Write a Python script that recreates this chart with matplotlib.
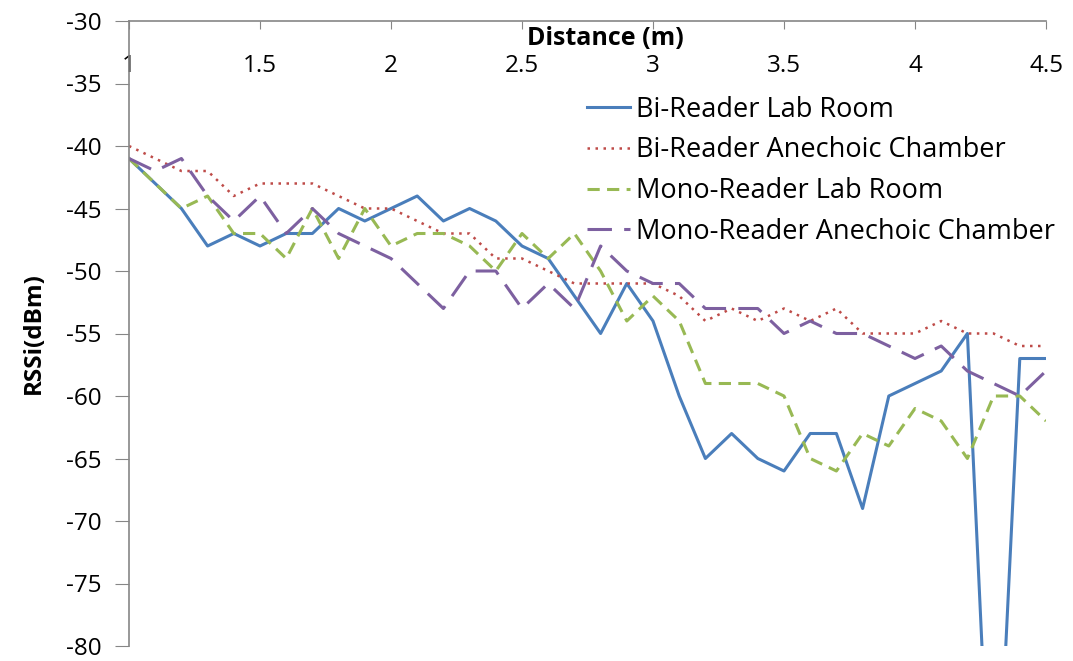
import numpy as np
import matplotlib.pyplot as plt

plt.rcParams['font.family'] = ['Open Sans', 'DejaVu Sans']
plt.rcParams['axes.unicode_minus'] = False

# Data (RSSi in dBm)
distance = np.round(np.arange(1.0, 4.51, 0.1), 1)

bi_lab = [-41, -43, -45, -48, -47, -48, -47, -47, -45, -46,
          -45, -44, -46, -45, -46, -48, -49, -52, -55, -51,
          -54, -60, -65, -63, -65, -66, -63, -63, -69, -60,
          -59, -58, -55, -100, -57, -57]
bi_anechoic = [-40, -41, -42, -42, -44, -43, -43, -43, -44, -45,
               -45, -46, -47, -47, -49, -49, -50, -51, -51, -51,
               -51, -52, -54, -53, -54, -53, -54, -53, -55, -55,
               -55, -54, -55, -55, -56, -56]
mono_lab = [-41, -43, -45, -44, -47, -47, -49, -45, -49, -45,
            -48, -47, -47, -48, -50, -47, -49, -47, -50, -54,
            -52, -54, -59, -59, -59, -60, -65, -66, -63, -64,
            -61, -62, -65, -60, -60, -62]
mono_anechoic = [-41, -42, -41, -44, -46, -44, -47, -45, -47, -48,
                 -49, -51, -53, -50, -50, -53, -51, -53, -48, -50,
                 -51, -51, -53, -53, -53, -55, -54, -55, -55, -56,
                 -57, -56, -58, -59, -60, -58]

labels = ['Bi-Reader Lab Room', 'Bi-Reader Anechoic Chamber',
          'Mono-Reader Lab Room', 'Mono-Reader Anechoic Chamber']

fig = plt.figure(figsize=(10.73, 6.61), dpi=100)
ax = fig.add_axes([129 / 1073, 15 / 661, 917 / 1073, 625 / 661])

ax.plot(distance, bi_lab, color='#4A7EBB', lw=2.2, label=labels[0])
ax.plot(distance, bi_anechoic, color='#BE4B48', lw=1.8, linestyle=(0, (1, 2.2)), label=labels[1])
ax.plot(distance, mono_lab, color='#98B954', lw=2.2, linestyle=(0, (4, 2.4)), label=labels[2])
ax.plot(distance, mono_anechoic, color='#7D60A0', lw=2.2, linestyle=(0, (8, 4)), label=labels[3])

ax.set_xlim(1, 4.5)
ax.set_ylim(-80, -30)
ax.set_xticks(np.arange(1, 4.51, 0.5))
ax.set_xticklabels(['1', '1.5', '2', '2.5', '3', '3.5', '4', '4.5'])
ax.set_yticks(np.arange(-80, -29, 5))

for s in ['bottom', 'right']:
    ax.spines[s].set_visible(False)
for s in ['top', 'left']:
    ax.spines[s].set_color('#868686')
    ax.spines[s].set_linewidth(1.2)

ax.tick_params(axis='x', top=True, bottom=False, labeltop=True, labelbottom=False,
               direction='in', length=6, color='#868686', pad=-41, labelsize=17.5)
ax.tick_params(axis='y', direction='out', length=10, color='#868686', labelsize=17.5, pad=10)

ax.text(0.52, 0.972, 'Distance (m)', transform=ax.transAxes, ha='center', va='center',
        fontsize=18, fontweight='bold')
ax.set_ylabel('RSSi(dBm)', fontsize=17.5, fontweight='bold', labelpad=14)

ax.legend(loc='upper left', bbox_to_anchor=(0.4875, 0.898), frameon=False, fontsize=19.5,
          handlelength=1.6, labelspacing=0.47, handletextpad=0.2, borderaxespad=0)

fig.savefig('out.png', dpi=100)
